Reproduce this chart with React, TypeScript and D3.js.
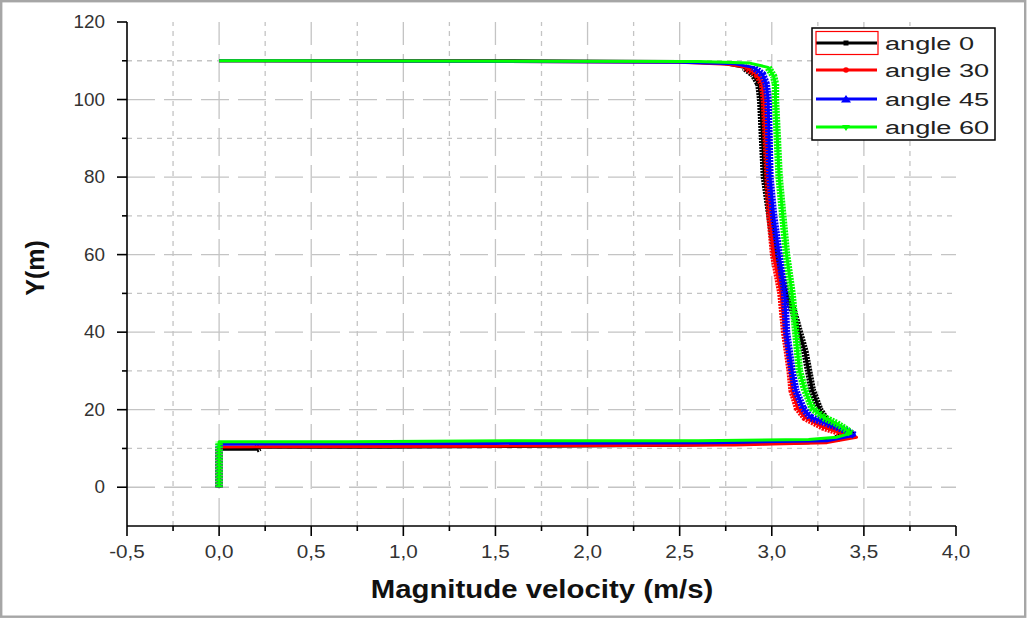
import React from "react";
import * as d3 from "d3";

// ---------- data ----------
const xMajorTicks = [-0.5, 0, 0.5, 1, 1.5, 2, 2.5, 3, 3.5, 4];
const xMinorTicks = [-0.25, 0.25, 0.75, 1.25, 1.75, 2.25, 2.75, 3.25, 3.75];
const yMajorTicks = [0, 20, 40, 60, 80, 100, 120];
const yMinorTicks = [10, 30, 50, 70, 90, 110];

const seriesNames = ["angle 0", "angle 30", "angle 45", "angle 60"];
const seriesColors = ["#000000", "#ff0000", "#0000ff", "#00ff00"];

// [velocity (m/s), Y (m)]
const angle0: [number, number][] = [
  [0, 0], [0, 9.8], [0.2, 9.8], [0.22, 10.3], [0.9, 10.3], [1.5, 10.5], [2.5, 10.8],
  [3.2, 11.5], [3.35, 12.5], [3.41, 14.0], [3.36, 15.0], [3.3, 17], [3.26, 20],
  [3.22, 25], [3.2, 30], [3.18, 35], [3.15, 40], [3.12, 45], [3.08, 50], [3.05, 55],
  [3.02, 60], [2.99, 70], [2.96, 80], [2.95, 90], [2.94, 100], [2.93, 104], [2.9, 106.5],
  [2.85, 108.3], [2.75, 109.2], [2.5, 109.8], [1.6, 110], [0.4, 110], [0, 110],
];
const angle30: [number, number][] = [
  [0, 0], [0, 10.4], [1.5, 10.6], [2.8, 10.9], [3.3, 11.5], [3.46, 12.9], [3.38, 14.0],
  [3.28, 15.5], [3.18, 18], [3.14, 20.4], [3.11, 25], [3.1, 30], [3.07, 40], [3.05, 50],
  [3.01, 60], [2.99, 70], [2.98, 80], [2.97, 90], [2.96, 100], [2.95, 104], [2.92, 106.5],
  [2.86, 108.3], [2.76, 109.1], [2.5, 109.6], [1.5, 109.8], [0, 110],
];
const angle45: [number, number][] = [
  [0, 0], [0, 11.1], [1.5, 11.3], [2.7, 11.5], [3.3, 12.0], [3.45, 13.4], [3.4, 14.7],
  [3.3, 16.5], [3.21, 18], [3.17, 20.4], [3.13, 25], [3.11, 30], [3.08, 40], [3.07, 50],
  [3.04, 60], [3.01, 70], [2.99, 80], [2.985, 90], [2.98, 100], [2.97, 104], [2.95, 106.5],
  [2.9, 108.3], [2.8, 109.2], [2.5, 109.6], [1.5, 109.8], [0, 110],
];
const angle60: [number, number][] = [
  [0, 0], [0, 11.7], [0.7, 11.7], [1.7, 12.0], [2.6, 12.0], [3.2, 12.3], [3.35, 12.9],
  [3.43, 13.9], [3.41, 14.7], [3.35, 16.5], [3.28, 18], [3.22, 20.4], [3.18, 25],
  [3.15, 30], [3.13, 40], [3.11, 50], [3.08, 60], [3.06, 70], [3.04, 80], [3.03, 90],
  [3.02, 100], [3.02, 104], [3.01, 106], [2.98, 108.3], [2.88, 109.4], [2.6, 109.8],
  [0.4, 110], [0, 110],
];
const allSeries = [angle0, angle30, angle45, angle60];

// ---------- layout ----------
const W = 1028;
const H = 619;
const x = d3.scaleLinear().domain([-0.5, 4.0]).range([127, 956]);
const y = d3.scaleLinear().domain([-10, 120]).range([526, 22]);
const fmt = (v: number) => d3.format(".1f")(v).replace(".", ",").replace("−", "-");
const FONT = "'Liberation Sans', Arial, sans-serif";

function StretchText(props: {
  x: number; y: number; sx: number; size: number; anchor?: string; weight?: string | number; fill?: string; rotate?: number; children: React.ReactNode;
}) {
  const { rotate = 0 } = props;
  return (
    <text
      transform={`translate(${props.x},${props.y}) rotate(${rotate}) scale(${props.sx},1)`}
      textAnchor={props.anchor || "start"}
      fontFamily={FONT}
      fontSize={props.size}
      fontWeight={props.weight || "normal"}
      fill={props.fill || "#222"}
    >
      {props.children}
    </text>
  );
}

function Marker({ kind, cx, cy, color }: { kind: number; cx: number; cy: number; color: string }) {
  if (kind === 0) return <rect x={cx - 2.5} y={cy - 2.5} width={5} height={5} fill={color} />;
  if (kind === 1) return <circle cx={cx} cy={cy} r={2.8} fill={color} />;
  if (kind === 2) return <path d={`M${cx - 5},${cy + 3.5}L${cx + 5},${cy + 3.5}L${cx},${cy - 4}Z`} fill={color} />;
  return <path d={`M${cx - 4},${cy - 2}L${cx + 4},${cy - 2}L${cx},${cy + 4}Z`} fill={color} />;
}

export default function App() {
  const line = d3.line<[number, number]>().x((d) => x(d[0])).y((d) => y(d[1]));
  const x0 = x(-0.5);
  const x1 = x(4.0);
  const y0 = y(-10);
  const y1 = y(120);

  // steep segments get the dense-marker band
  const steepSegments = (data: [number, number][]) => {
    const segs: [number, number][][] = [];
    let cur: [number, number][] = [];
    for (let i = 1; i < data.length; i++) {
      const dx = Math.abs(x(data[i][0]) - x(data[i - 1][0]));
      const dy = Math.abs(y(data[i][1]) - y(data[i - 1][1]));
      if (dy > 0.3 * dx) {
        if (cur.length === 0) cur.push(data[i - 1]);
        cur.push(data[i]);
      } else if (cur.length) {
        segs.push(cur);
        cur = [];
      }
    }
    if (cur.length) segs.push(cur);
    return segs;
  };

  const legendX = 812;
  const legendY = 28;
  const legendRows = [43, 70, 99, 127];

  return (
    <svg
      width={W}
      height={H}
      style={{ position: "absolute", left: 0, top: 0, background: "#fff" }}
    >
      <rect x={0} y={0} width={W} height={H} fill="#fff" />
      <rect x={1.2} y={1.2} width={1024} height={615.5} fill="none" stroke="#a6a6a6" strokeWidth={2.4} />

      {/* grid */}
      <g>
        {yMinorTicks.map((t) => (
          <line key={"hm" + t} x1={x0} x2={x1} y1={y(t)} y2={y(t)} stroke="#c4c4c4" strokeWidth={1.3} strokeDasharray="5 5" />
        ))}
        {yMajorTicks.filter((t) => t < 120).map((t) => (
          <line key={"hM" + t} x1={x0} x2={x1} y1={y(t)} y2={y(t)} stroke="#c4c4c4" strokeWidth={1.3} strokeDasharray="28 9" />
        ))}
        {xMinorTicks.map((t) => (
          <line key={"vm" + t} x1={x(t)} x2={x(t)} y1={y0} y2={y1} stroke="#c4c4c4" strokeWidth={1.3} strokeDasharray="5 5" />
        ))}
        {xMajorTicks.filter((t) => t > -0.5 && t < 4).map((t) => (
          <line key={"vM" + t} x1={x(t)} x2={x(t)} y1={y0} y2={y1} stroke="#c4c4c4" strokeWidth={1.3} strokeDasharray="28 9" />
        ))}
      </g>

      {/* series */}
      {allSeries.map((data, i) => (
        <g key={"s" + i}>
          <path d={line(data) || ""} fill="none" stroke={seriesColors[i]} strokeWidth={3} strokeLinejoin="round" />
          {steepSegments(data).map((seg, j) => (
            <path key={j} d={line(seg) || ""} fill="none" stroke={seriesColors[i]} strokeWidth={7.5} strokeDasharray="2 1" />
          ))}
        </g>
      ))}

      {/* axes */}
      <g stroke="#000" strokeWidth={1.6}>
        <line x1={x0} x2={x0} y1={y1} y2={y0} />
        <line x1={x0} x2={x1} y1={y0} y2={y0} />
        {xMajorTicks.map((t) => (
          <line key={"xt" + t} x1={x(t)} x2={x(t)} y1={y0} y2={y0 + 10} />
        ))}
        {xMinorTicks.map((t) => (
          <line key={"xmt" + t} x1={x(t)} x2={x(t)} y1={y0} y2={y0 + 5} />
        ))}
        {yMajorTicks.map((t) => (
          <line key={"yt" + t} x1={x0 - 10} x2={x0} y1={y(t)} y2={y(t)} />
        ))}
        {yMinorTicks.map((t) => (
          <line key={"ymt" + t} x1={x0 - 5} x2={x0} y1={y(t)} y2={y(t)} />
        ))}
      </g>
      {xMajorTicks.map((t) => (
        <StretchText key={"xl" + t} x={x(t)} y={y0 + 32} sx={1.15} size={18} anchor="middle" fill="#333">
          {fmt(t)}
        </StretchText>
      ))}
      {yMajorTicks.map((t) => (
        <StretchText key={"yl" + t} x={105} y={y(t) + 6} sx={1.05} size={18} anchor="end" fill="#333">
          {String(t)}
        </StretchText>
      ))}

      {/* axis titles */}
      <StretchText x={542} y={598} sx={1.175} size={25} anchor="middle" weight="bold" fill="#111">
        Magnitude velocity (m/s)
      </StretchText>
      <text
        transform={`translate(44,268) rotate(-90)`}
        textAnchor="middle"
        fontFamily={FONT}
        fontSize={25}
        fontWeight="bold"
        fill="#111"
      >
        Y(m)
      </text>

      {/* legend */}
      <rect x={legendX} y={legendY} width={183} height={112} fill="#fff" stroke="#000" strokeWidth={1.5} />
      {seriesNames.map((name, i) => (
        <g key={"lg" + i}>
          <line x1={816} x2={877} y1={legendRows[i]} y2={legendRows[i]} stroke={seriesColors[i]} strokeWidth={3} />
          <Marker kind={i} cx={846} cy={legendRows[i]} color={seriesColors[i]} />
          <StretchText x={885} y={legendRows[i] + 7} sx={1.43} size={19} fill="#222">
            {name}
          </StretchText>
        </g>
      ))}
      <rect x={816} y={31.5} width={62} height={23} fill="none" stroke="#ff0000" strokeWidth={1.2} />
    </svg>
  );
}
